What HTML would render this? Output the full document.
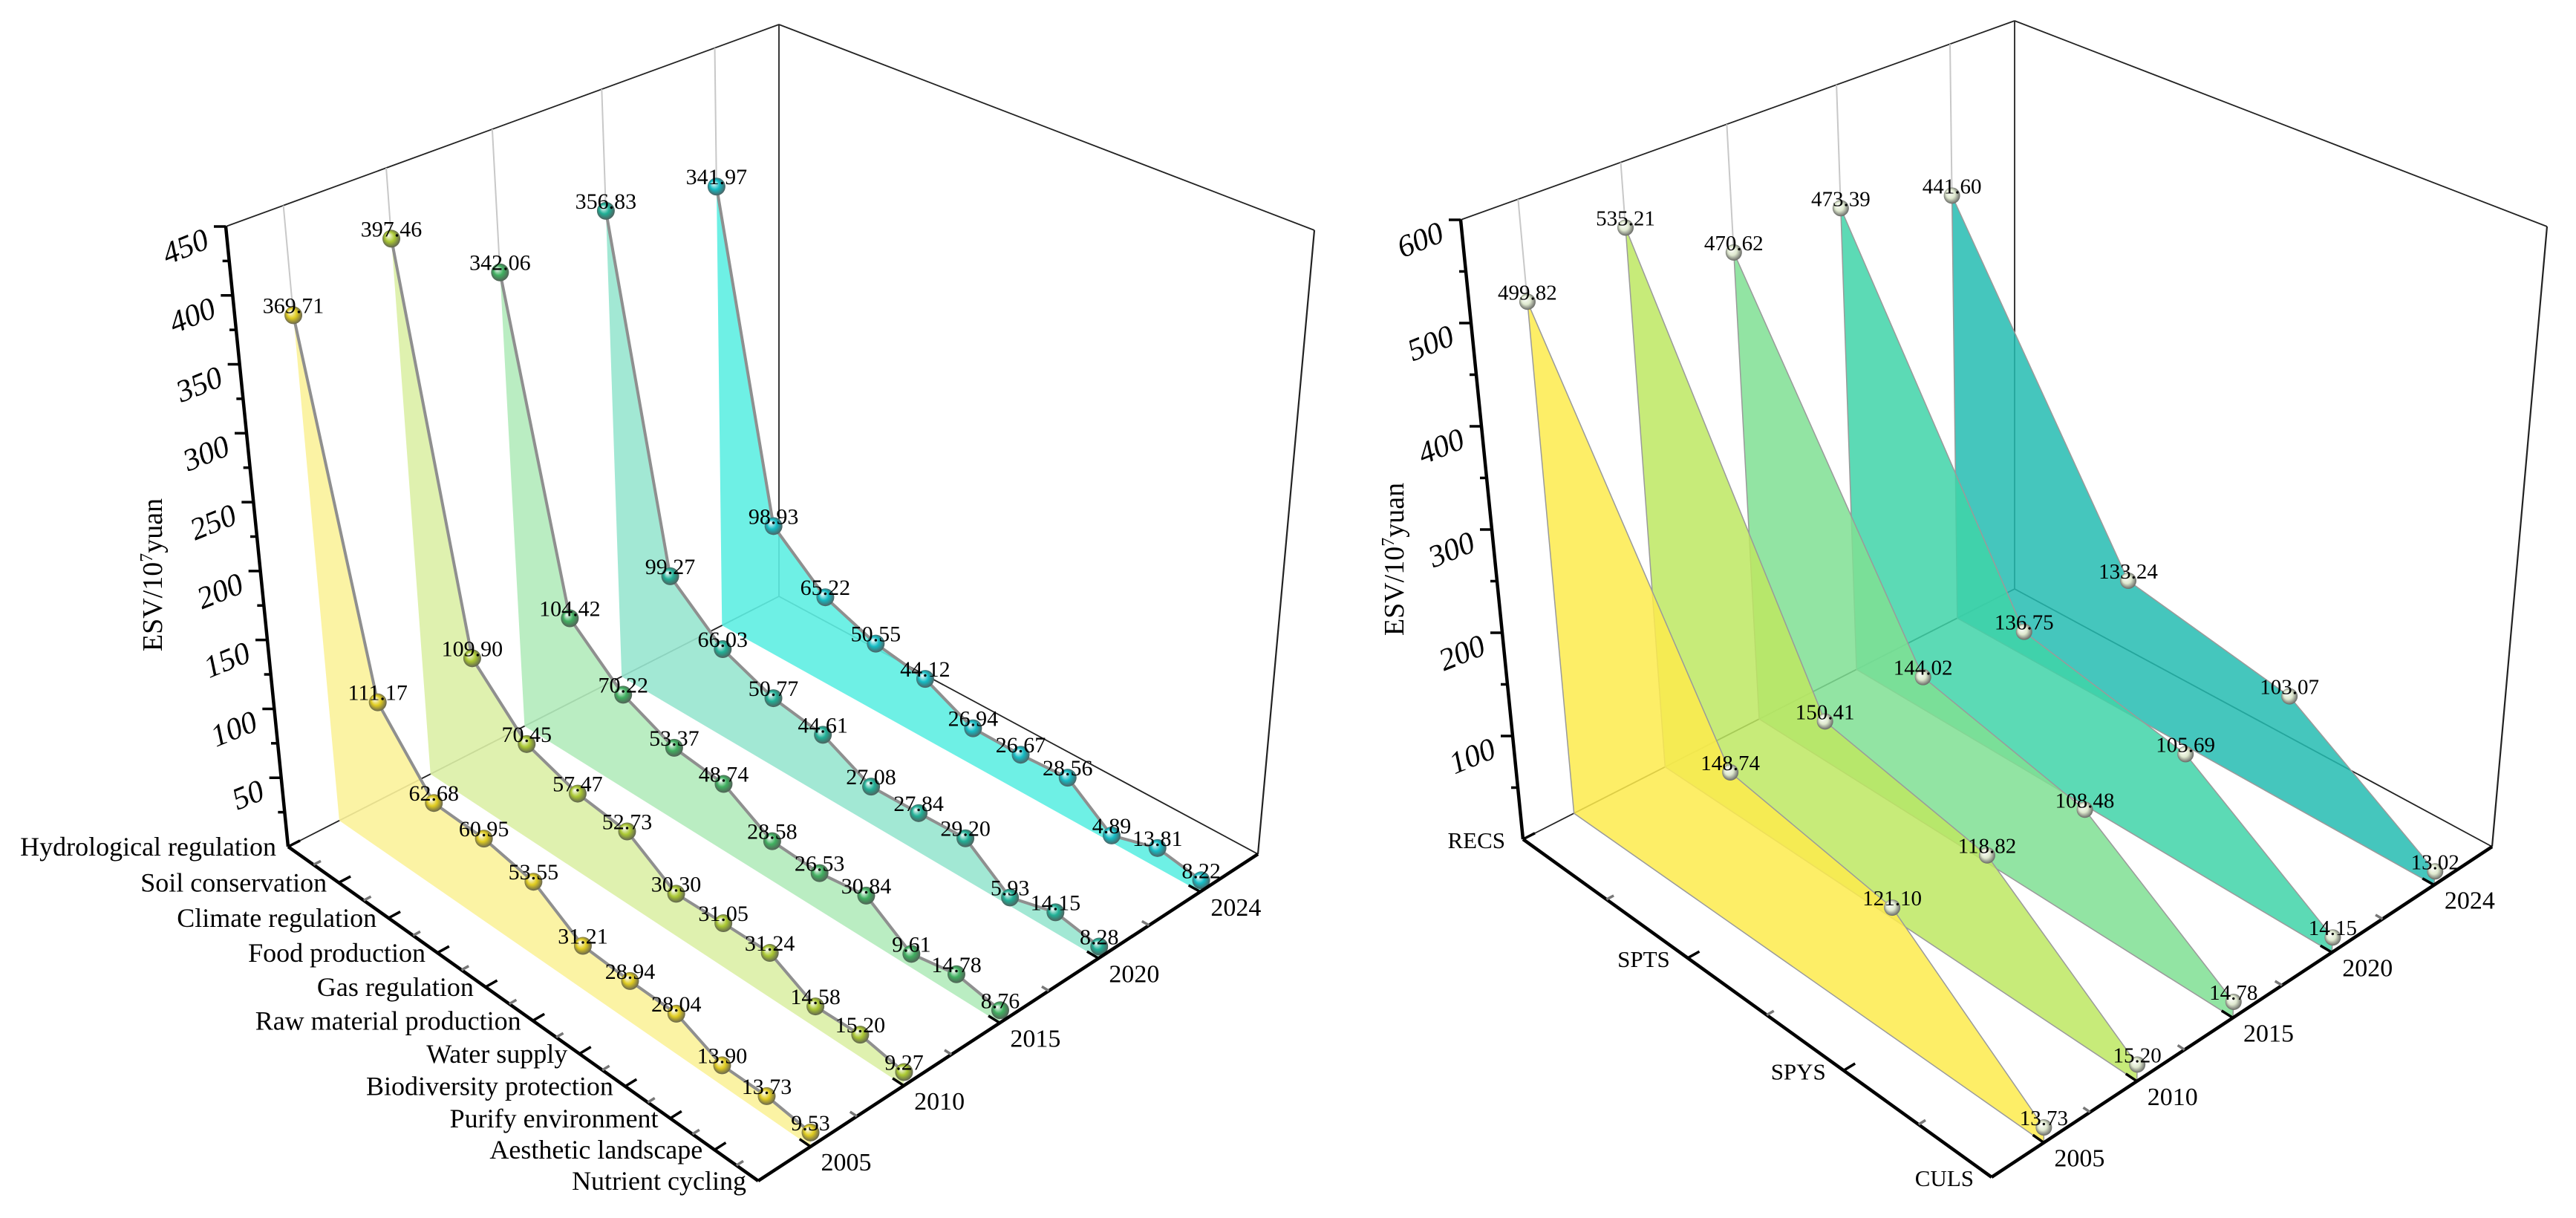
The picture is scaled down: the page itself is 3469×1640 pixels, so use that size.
<!DOCTYPE html>
<html><head><meta charset="utf-8"><style>
html,body{margin:0;padding:0;background:#fff}
svg{display:block}
text{font-family:"Liberation Serif",serif;fill:#000}
</style></head><body>
<svg id="chart" width="3469" height="1640" viewBox="0 0 3469 1640" xmlns="http://www.w3.org/2000/svg">
<defs id="defs"></defs>
</svg>
<script>
const leftCategories = ["Hydrological regulation","Soil conservation","Climate regulation","Food production","Gas regulation","Raw material production","Water supply","Biodiversity protection","Purify environment","Aesthetic landscape","Nutrient cycling"];
const years = ["2005","2010","2015","2020","2024"];
const left2005 = [369.71,111.17,62.68,60.95,53.55,31.21,28.94,28.04,13.90,13.73,9.53];
const left2010 = [397.46,109.90,70.45,57.47,52.73,30.30,31.05,31.24,14.58,15.20,9.27];
const left2015 = [342.06,104.42,70.22,53.37,48.74,28.58,26.53,30.84,9.61,14.78,8.76];
const left2020 = [356.83,99.27,66.03,50.77,44.61,27.08,27.84,29.20,5.93,14.15,8.28];
const left2024 = [341.97,98.93,65.22,50.55,44.12,26.94,26.67,28.56,4.89,13.81,8.22];
const leftTicks = [50,100,150,200,250,300,350,400,450];
const rightCategories = ["RECS","SPTS","SPYS","CULS"];
const right2005 = [499.82,148.74,121.10,13.73];
const right2010 = [535.21,150.41,118.82,15.20];
const right2015 = [470.62,144.02,108.48,14.78];
const right2020 = [473.39,136.75,105.69,14.15];
const right2024 = [441.60,133.24,103.07,13.02];
const rightTicks = [100,200,300,400,500,600];

const NS = "http://www.w3.org/2000/svg";
const svg = document.getElementById('chart');
const defs = document.getElementById('defs');
function el(tag, attrs, parent){
  const e = document.createElementNS(NS, tag);
  for (const k in attrs) e.setAttribute(k, attrs[k]);
  (parent||svg).appendChild(e);
  return e;
}
function makeProj(c){
  return function(u,v,h){
    const w=[(1-u)*(1-v)*c.q[0], u*(1-v)*c.q[1], u*v*c.q[2], (1-u)*v*c.q[3]];
    const s=w[0]+w[1]+w[2]+w[3];
    let fx=0,fy=0,tx=0,ty=0;
    for(let k=0;k<4;k++){fx+=w[k]*c.floor[k][0];fy+=w[k]*c.floor[k][1];tx+=w[k]*c.top[k][0];ty+=w[k]*c.top[k][1];}
    fx/=s;fy/=s;tx/=s;ty/=s;
    return [fx+(tx-fx)*h/c.hmax, fy+(ty-fy)*h/c.hmax];
  };
}
function yearV(j){ return 0.112 + j*0.195; }
function pts(a){ return a.map(p=>p[0].toFixed(1)+','+p[1].toFixed(1)).join(' '); }

function gradient(id,color){
  const g = el('radialGradient',{id:id,cx:'50%',cy:'50%',r:'55%',fx:'32%',fy:'30%'},defs);
  el('stop',{offset:'0%','stop-color':'#ffffff'},g);
  el('stop',{offset:'50%','stop-color':color},g);
  el('stop',{offset:'100%','stop-color':'#555'},g);
}

function drawChart(cfg){
  const P = makeProj(cfg);
  const g = el('g',{});
  
  
  const n = cfg.cats.length;
  const uOf = i => i/(n-1);
  const bl = [[P(0,0,cfg.hmax),P(0,1,cfg.hmax)],[P(0,1,cfg.hmax),P(1,1,cfg.hmax)],[P(0,1,0),P(0,1,cfg.hmax)],[P(1,1,0),P(1,1,cfg.hmax)],[P(0,0,0),P(0,1,0)],[P(0,1,0),P(1,1,0)]];
  bl.forEach((s,k)=>{
    const l = el('line',{x1:s[0][0],y1:s[0][1],x2:s[1][0],y2:s[1][1],stroke:'#222','stroke-width':k===3?2.2:1.8},g);
    
    
  });
  for(let j=cfg.series.length-1;j>=0;j--){
    const vals = cfg.series[j], v = yearV(j);
    const top = vals.map((val,i)=>P(uOf(i),v,val));
    const poly = [P(0,v,0)].concat(top).concat([P(1,v,0)]);
    const wall = el('polygon',{points:pts(poly),fill:cfg.fills[j],'fill-opacity':cfg.opacity,stroke:cfg.wallStroke,'stroke-width':1.5},g);
    
    
    const guide = el('line',{x1:top[0][0],y1:top[0][1],x2:P(0,v,cfg.hmax)[0],y2:P(0,v,cfg.hmax)[1],stroke:'#c8c8c8','stroke-width':2},g);
    
    
    if(cfg.line){
      const pl = el('polyline',{points:pts(top),fill:'none',stroke:'#8f8f8f','stroke-width':4},g);
      
      
    }
    top.forEach((p,i)=>{
      const c = el('circle',{cx:p[0],cy:p[1],r:cfg.r,fill:'url(#'+cfg.gid+j+')'},g);
      
      
      const t = el('text',{x:p[0],y:p[1]-3,'text-anchor':'middle','font-size':cfg.labelSize},g);
      t.textContent = vals[i].toFixed(2);
      
      
    });
  }
  const a0=P(0,0,0), a1=P(0,0,cfg.hmax);
  const ya = el('line',{x1:a0[0],y1:a0[1],x2:a1[0],y2:a1[1],stroke:'#000','stroke-width':4.5},g);
  
  
  for(let h=cfg.minor;h<=cfg.hmax;h+=cfg.minor){
    const p=P(0,0,h); const major = cfg.ticks.indexOf(h)>=0;
    const tk = el('line',{x1:p[0],y1:p[1],x2:p[0]-(major?16:9),y2:p[1],stroke:'#000','stroke-width':3.5},g);
    
    
  }
  cfg.ticks.forEach(h=>{
    const p=P(0,0,h); const x=p[0]-20, y=p[1]+28;
    const t = el('text',{x:x,y:y,'text-anchor':'end','font-size':42,'font-style':'italic',transform:'rotate(-22 '+x+' '+y+')'},g);
    t.textContent = h;
    
    
  });
  const tt = el('text',{x:cfg.title[0],y:cfg.title[1],'text-anchor':'middle','font-size':38,transform:'rotate(-90 '+cfg.title[0]+' '+cfg.title[1]+')'},g);
  tt.innerHTML = 'ESV/10<tspan baseline-shift="super" font-size="24">7</tspan>yuan';
  
  
  const c0=P(0,0,0), c1=P(1,0,0), r1=P(1,1,0);
  const ca = el('line',{x1:c0[0],y1:c0[1],x2:c1[0],y2:c1[1],stroke:'#000','stroke-width':4.5},g);
  
  
  const ra = el('line',{x1:c1[0],y1:c1[1],x2:r1[0],y2:r1[1],stroke:'#000','stroke-width':4.5},g);
  
  
  for(let k=0;k<=2*(n-1);k++){
    const u=k/(2*(n-1)); const p=P(u,0,0), q=P(u,0.025,0);
    const major=k%2===0;
    const dx=q[0]-p[0], dy=q[1]-p[1], L=Math.hypot(dx,dy), len=major?18:11;
    const tk=el('line',{x1:p[0],y1:p[1],x2:p[0]+dx/L*len,y2:p[1]+dy/L*len,stroke:major?'#000':'#777','stroke-width':3.5},g);
    
    
  }
  cfg.cats.forEach((name,i)=>{
    const p=P(uOf(i),0,0);
    const t=el('text',{x:p[0]-cfg.catOff,y:p[1]+12,'text-anchor':'end','font-size':cfg.catSize},g);
    t.textContent=name;
    
    
  });
  for(let k=0;k<=8;k++){
    const v = 0.112 + k*0.0975; if(v>1) break;
    const p=P(1,v,0), q=P(0.97,v,0); const major=k%2===0;
    const dx=q[0]-p[0], dy=q[1]-p[1], L=Math.hypot(dx,dy), len=major?18:11;
    const tk=el('line',{x1:p[0],y1:p[1],x2:p[0]+dx/L*len,y2:p[1]+dy/L*len,stroke:major?'#000':'#777','stroke-width':3.5},g);
    
    
  }
  years.forEach((yr,j)=>{
    const p=P(1,yearV(j),0);
    const t=el('text',{x:p[0]+14,y:p[1]+32,'font-size':34},g);
    t.textContent=yr;
    
    
  });
}

const leftFills=['#fbf29a','#dcf0a6','#b2ebbb','#98e6cf','#5eeee2'];
const leftPts=['#e0cc20','#aac832','#40b060','#20b096','#14bcc4'];
const rightFills=['#fdeb4c','#bde762','#7fdf93','#3fd3a8','#25bcb2'];
leftPts.forEach((c,j)=>gradient('lg'+j,c));
rightFills.forEach((c,j)=>gradient('rg'+j,'#dfe9cf'));

drawChart({name:'left-chart',floor:[[388,1140],[1021,1590],[1694,1150],[1049,803]],top:[[304,305],[1013,683],[1770,310],[1049,33]],q:[835,907,842,770],hmax:450,minor:25,ticks:leftTicks,
  cats:leftCategories,series:[left2005,left2010,left2015,left2020,left2024],fills:leftFills,opacity:0.9,wallStroke:'none',line:true,gid:'lg',r:12,labelSize:30,catSize:36,catOff:16,title:[218,774]});
drawChart({name:'right-chart',floor:[[2051,1130],[2682,1585],[3356,1140],[2713,793]],top:[[1967,296],[2675,681],[3430,305],[2713,28]],q:[834,904,835,765],hmax:600,minor:50,ticks:rightTicks,
  cats:rightCategories,series:[right2005,right2010,right2015,right2020,right2024],fills:rightFills,opacity:0.85,wallStroke:'#9a9a9a',line:false,gid:'rg',r:11,labelSize:29,catSize:31,catOff:24,title:[1890,753]});
</script>
</body></html>
